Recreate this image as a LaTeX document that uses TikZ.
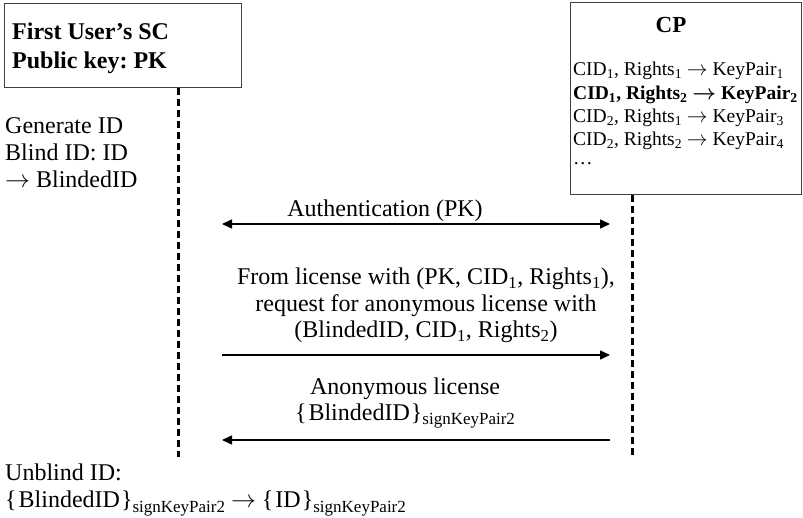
\documentclass[tikz,border=0pt]{standalone}
\usepackage{fontspec}
\setmainfont{Liberation Serif}
\usetikzlibrary{arrows.meta, positioning}
\newcommand{\signsub}[1]{\raisebox{-5pt}{\fontsize{17}{17}\selectfont #1}}
\newcommand{\brc}[1]{\{\kern2pt#1\kern1pt\}}
\frenchspacing

\begin{document}
\begin{tikzpicture}[x=1pt,y=-1pt,every node/.style={inner sep=0pt,font=\fontsize{24}{27}\selectfont},
    actor/.style={draw=black!75,line width=1pt},
    lifeline/.style={line width=3pt,dash pattern=on 7pt off 4pt},
    msg/.style={line width=1.5pt,-{Triangle[length=10pt,width=9pt]}}]
    \useasboundingbox (0,0) rectangle (803,518);
    % participants (anchor=base is the last line's baseline)
    \node[actor,anchor=north west,minimum width=237pt,minimum height=84pt] (user) at (4,3) {};
    \node[anchor=base west,align=left,font=\fontsize{24}{29}\selectfont\bfseries] (username) at (12,69)
        {First User’s SC\\Public key: PK};
    \node[actor,anchor=north west,minimum width=231pt,minimum height=192pt] (cp) at (570,2) {};
    \node[anchor=base,font=\fontsize{23}{23}\selectfont\bfseries] (cptitle) at (671,33) {CP};
    \node[anchor=base west,align=left,font=\fontsize{19.5}{23.3}\selectfont] (keys) at (573,165) {%
        CID\textsubscript{1}, Rights\textsubscript{1} $\rightarrow$ KeyPair\textsubscript{1}\\
        \textbf{CID\textsubscript{1}, Rights\textsubscript{2} {\boldmath$\rightarrow$} KeyPair\textsubscript{2}}\\
        CID\textsubscript{2}, Rights\textsubscript{1} $\rightarrow$ KeyPair\textsubscript{3}\\
        CID\textsubscript{2}, Rights\textsubscript{2} $\rightarrow$ KeyPair\textsubscript{4}\\[-4pt]
        \dots};
    % lifelines
    \coordinate (uend) at (178,457);
    \coordinate (cend) at (632,455);
    \draw[lifeline] (user.south -| uend) -- (uend);
    \draw[lifeline] (cp.south -| cend) -- (cend);
    % local steps
    \node[anchor=base west,align=left] (blind) at (5,188) {Generate ID\\Blind ID: ID\\$\rightarrow$ BlindedID};
    \node[anchor=base west,align=left] (unblind) at (5,507) {Unblind ID:\\
        \brc{BlindedID}\signsub{signKeyPair2} $\rightarrow$ \brc{ID}\signsub{signKeyPair2}};
    % messages
    \coordinate (u1) at (222,224); \coordinate (c1) at (610,224);
    \coordinate (u2) at (222,355); \coordinate (c2) at (610,355);
    \coordinate (u3) at (222,440); \coordinate (c3) at (610,440);
    \draw[msg,{Triangle[length=10pt,width=9pt]}-{Triangle[length=10pt,width=9pt]}] (u1) -- (c1);
    \draw[msg] (u2) -- (c2);
    \draw[msg] (c3) -- (u3);
    \node[anchor=base] (auth) at (385,217) {Authentication (PK)};
    \node[anchor=base,align=center,font=\fontsize{24}{26.5}\selectfont] (req) at (426,338) {%
        From license with (PK, CID\textsubscript{1}, Rights\textsubscript{1}),\\
        request for anonymous license with\\
        (BlindedID, CID\textsubscript{1}, Rights\textsubscript{2})};
    \node[anchor=base,align=center,font=\fontsize{24}{25}\selectfont] (lic) at (405,420) {%
        Anonymous license\\\brc{BlindedID}\signsub{signKeyPair2}};
\end{tikzpicture}
\end{document}
